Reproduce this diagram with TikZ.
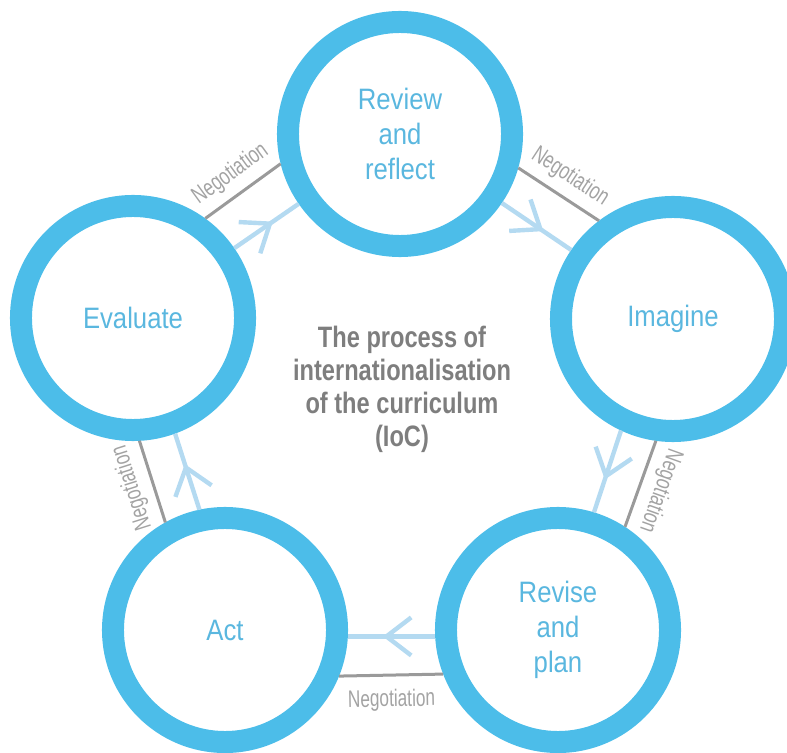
\documentclass[tikz,border=0pt]{standalone}
\usepackage{fontspec}
\setmainfont{Liberation Sans}[FakeStretch=0.87]
\newfontfamily\centrefont{Liberation Sans}[FakeStretch=0.8]
\newfontfamily\negfont{Liberation Sans}[FakeStretch=0.72]
\usetikzlibrary{arrows.meta,decorations.markings}

\definecolor{ringblue}{HTML}{4CBDE9}
\definecolor{labelblue}{HTML}{5AB7DF}
\definecolor{arrowblue}{HTML}{B4DAF1}
\definecolor{neggrey}{HTML}{9A9A9A}
\definecolor{negtext}{HTML}{A3A3A3}
\definecolor{centregrey}{HTML}{7E7E7E}

\tikzset{
  stage/.style={circle, draw=ringblue, line width=0.55cm, minimum size=5.6cm,
    inner sep=0pt, align=center, text=labelblue,
    font=\fontsize{21}{25}\selectfont},
  flowline/.style={arrowblue, line width=0.11cm, postaction={decorate},
    decoration={markings, mark=at position 0.6 with
      {\arrow{Straight Barb[length=0.62cm,width=0.95cm]}}}},
  negline/.style={neggrey, line width=0.075cm},
  neglabel/.style={text=negtext, font=\negfont\fontsize{17}{19}\selectfont,
    inner sep=6pt, sloped}
}

\begin{document}
\begin{tikzpicture}[x=0.025cm, y=-0.025cm]
                \useasboundingbox (0,0) rectangle (787,753);%

                % Drawing stages
                \node [stage] (review) at (400,134) {Review\\and\\reflect};%
                \node [stage] (imagine) at (673,319) {Imagine};%
                \node [stage] (revise) at (558,630) {Revise\\and\\plan};%
                \node [stage] (act) at (225,630) {Act};%
                \node [stage] (evaluate) at (133,318) {Evaluate};%

                % Drawing title in the middle
                \node [text=centregrey, align=center,
                  font=\centrefont\bfseries\fontsize{21}{23.5}\selectfont]
                  (title) at (402,389) {The process of\\internationalisation\\of the curriculum\\(IoC)};%

                % Drawing flow lines
                \draw [flowline] (evaluate) -- (review);%
                \draw [flowline] (review) -- (imagine);%
                \draw [flowline] (imagine.245.5) -- (revise.73.9);%
                \draw [flowline] (revise.183) -- (act.357);%
                \draw [flowline] (act.102.2) -- (evaluate.290.6);%

                % Drawing negotiation lines
                \draw [negline] (evaluate.54.6) -- node [neglabel, allow upside down, above] {Negotiation} (review.194.6);%
                \draw [negline] (review.344.4) -- node [neglabel, allow upside down, above] {Negotiation} (imagine.127.4);%
                \draw [negline] (imagine.262.4) -- node [neglabel, allow upside down, above] {Negotiation} (revise.57);%
                \draw [negline] (revise.201.5) -- node [neglabel, below=3pt] {Negotiation} (act.338.5);%
                \draw [negline] (act.119.3) -- node [neglabel, allow upside down, above] {Negotiation} (evaluate.273.5);%
\end{tikzpicture}
\end{document}
